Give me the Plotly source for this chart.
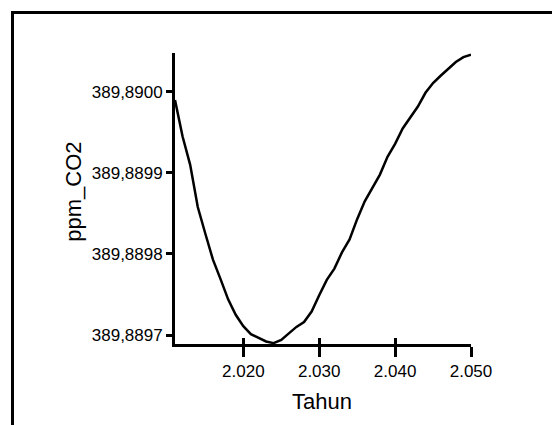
import plotly.graph_objects as go

years = list(range(2011, 2051))
ppm_co2 = [
    389.889990, 389.889945, 389.889910, 389.889858, 389.889825,
    389.889793, 389.889769, 389.889744, 389.889725, 389.889711,
    389.889701, 389.889696, 389.889692, 389.889690, 389.889694,
    389.889702, 389.889710, 389.889716, 389.889729, 389.889749,
    389.889768, 389.889782, 389.889802, 389.889818, 389.889843,
    389.889865, 389.889882, 389.889898, 389.889920, 389.889936,
    389.889955, 389.889968, 389.889982, 389.889999, 389.890011,
    389.890020, 389.890028, 389.890037, 389.890043, 389.890046,
]
x_tickvals = [2020, 2030, 2040, 2050]
x_ticktext = ["2.020", "2.030", "2.040", "2.050"]
y_tickvals = [389.8897, 389.8898, 389.8899, 389.8900]
y_ticktext = ["389,8897", "389,8898", "389,8899", "389,8900"]
x_title = "Tahun"
y_title = "ppm_CO2"

FONT = "Liberation Sans, Arial, sans-serif"

fig = go.Figure()
fig.add_trace(go.Scatter(x=years, y=ppm_co2, mode="lines",
                         line=dict(color="black", width=2.5),
                         showlegend=False, hoverinfo="skip"))
# invisible trace for overlay axis (inner ticks)
fig.add_trace(go.Scatter(x=[years[0], years[-1]], y=[ppm_co2[0], ppm_co2[0]],
                         xaxis="x2", mode="lines", line=dict(width=0),
                         showlegend=False, hoverinfo="skip"))

fig.update_layout(
    width=552, height=425,
    margin=dict(l=175, r=81, t=53, b=81),
    paper_bgcolor="white", plot_bgcolor="white",
    font=dict(family=FONT, size=17, color="black"),
    xaxis=dict(range=[2011, 2050], tickvals=x_tickvals, ticktext=x_ticktext,
               showgrid=False, zeroline=False, showline=True, linecolor="black",
               linewidth=2.8, ticks="outside", ticklen=10, tickwidth=2.5,
               tickcolor="black", tickfont=dict(size=17, family=FONT)),
    xaxis2=dict(range=[2011, 2050], overlaying="x", matches="x", side="bottom",
                tickvals=x_tickvals, showticklabels=False, showgrid=False,
                zeroline=False, showline=False, ticks="inside", ticklen=6,
                tickwidth=2.5, tickcolor="black"),
    yaxis=dict(range=[389.8896889, 389.8900481], tickvals=y_tickvals,
               ticktext=y_ticktext, showgrid=False, zeroline=False,
               showline=True, linecolor="black", linewidth=2.8,
               ticks="outside", ticklen=6, tickwidth=2.5, tickcolor="black",
               tickfont=dict(size=17, family=FONT)),
    annotations=[
        dict(text=y_title, xref="paper", yref="paper", x=-0.3426, y=0.522,
             textangle=-90, showarrow=False, font=dict(size=22, family=FONT),
             xanchor="center", yanchor="middle"),
        dict(text=x_title, xref="paper", yref="paper", x=0.495, y=-0.196,
             showarrow=False, font=dict(size=22, family=FONT),
             xanchor="center", yanchor="middle"),
    ],
    shapes=[
        dict(type="rect", xref="paper", yref="paper", x0=-0.549, y0=-0.4,
             x1=1.35, y1=1.139, line=dict(color="black", width=3),
             fillcolor="rgba(0,0,0,0)", layer="below"),
    ],
)

fig.write_html("out.html")
